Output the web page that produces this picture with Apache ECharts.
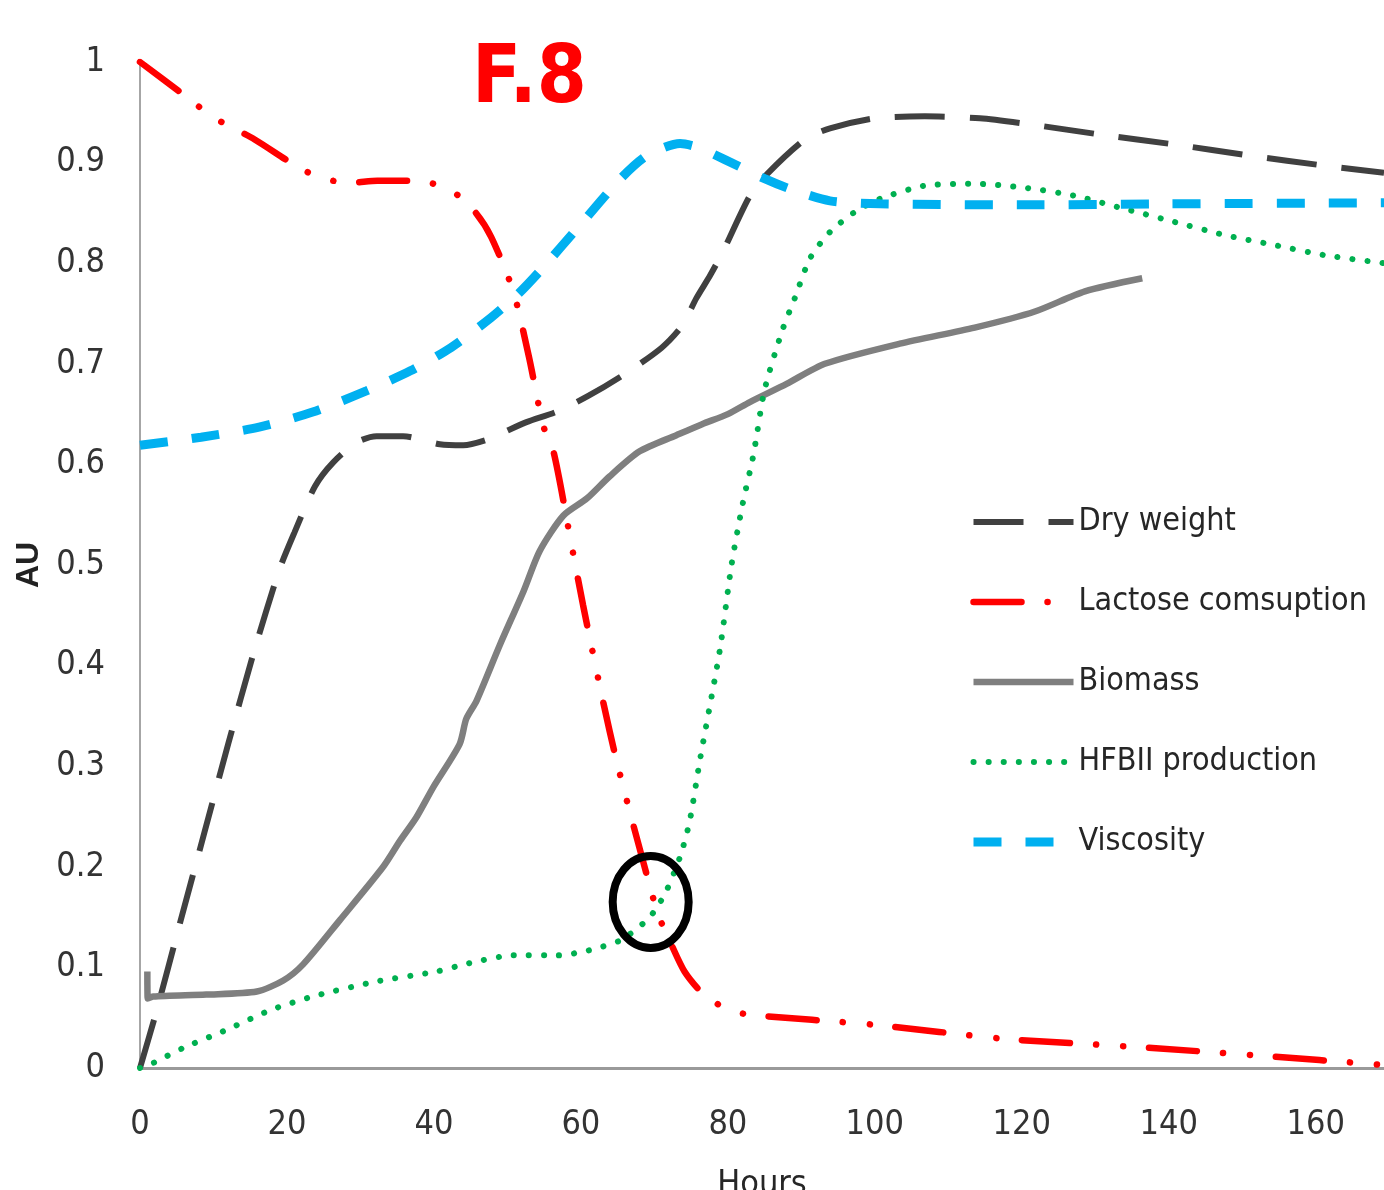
<!DOCTYPE html>
<html>
<head>
    <meta charset="UTF-8">
    <title>F.8 fermentation profile</title>
    <script src="https://cdn.jsdelivr.net/npm/echarts@6/dist/echarts.min.js"></script>
    <style>
        html, body { margin: 0; padding: 0; background: #fff; }
        #main { width: 1384px; height: 1190px; }
    </style>
</head>
<body>
    <div id="main"></div>
    <script type="text/javascript">
        // values: [hours, AU]
        const dryWeight = [[0,0],[2.3,0.058],[5.4,0.143],[8.8,0.235],[12,0.322],[15.4,0.411],[19,0.496],[21,0.532],[23.8,0.578],[26.3,0.602],[29.5,0.622],[32.2,0.628],[35.8,0.628],[40.8,0.62],[44,0.619],[47,0.624],[49.5,0.632],[52.6,0.642],[56.9,0.653],[61,0.668],[66,0.69],[71,0.716],[73.8,0.738],[75.7,0.765],[77.6,0.788],[79.3,0.811],[83,0.867],[85.4,0.889],[90.5,0.923],[93.9,0.934],[100,0.944],[106.8,0.946],[114.3,0.944],[121.1,0.938],[130.6,0.928],[140.8,0.918],[151,0.907],[161.2,0.897],[169.3,0.89]];
        const lactose = [[0,1],[5.85,0.968],[10,0.945],[15.6,0.923],[21.6,0.895],[25,0.884],[28.6,0.88],[32.3,0.882],[36,0.882],[38.9,0.881],[42.6,0.871],[45.6,0.851],[47.8,0.826],[50.8,0.772],[52.9,0.708],[54.9,0.638],[56.3,0.612],[58.7,0.521],[60.3,0.46],[63,0.365],[64.9,0.304],[68.3,0.21],[70.5,0.153],[72.3,0.123],[74.1,0.096],[76.6,0.074],[80,0.058],[83,0.053],[99.9,0.043],[117.6,0.029],[135.4,0.021],[153,0.012],[169.3,0.003]];
        const biomass = [[1,0.096],[1.05,0.069],[1.8,0.071],[9,0.073],[15.9,0.076],[19.5,0.087],[22.2,0.103],[27.2,0.147],[33.1,0.2],[35.4,0.226],[37.6,0.249],[39.9,0.279],[43.5,0.322],[44.4,0.347],[45.8,0.365],[49,0.421],[52.2,0.474],[54.4,0.514],[57.6,0.549],[60.8,0.566],[63.9,0.588],[68,0.613],[73,0.629],[76.5,0.64],[80,0.65],[83,0.662],[88,0.68],[93.2,0.7],[103.4,0.72],[113.6,0.736],[121.8,0.752],[128.6,0.772],[136.4,0.785]];
        const hfbii = [[0,0],[1.8,0.005],[5.9,0.02],[11.8,0.038],[17.9,0.058],[24,0.072],[32.2,0.086],[40.4,0.096],[44.7,0.104],[50.8,0.112],[56.9,0.112],[61.1,0.117],[65.4,0.127],[69,0.147],[70.3,0.159],[71.7,0.177],[73.5,0.21],[74.8,0.245],[76.2,0.306],[78.9,0.415],[80.5,0.5],[82,0.56],[83.5,0.61],[85,0.674],[87.4,0.733],[89.1,0.765],[91.2,0.805],[93.9,0.831],[97.3,0.851],[100.7,0.864],[106.8,0.877],[113.6,0.879],[120.4,0.875],[127.2,0.867],[134,0.854],[140.8,0.841],[147.6,0.828],[154.4,0.818],[161.2,0.808],[169.3,0.8]];
        const viscosity = [[0,0.619],[8.3,0.627],[16.2,0.637],[23.5,0.652],[30.8,0.673],[36.8,0.693],[42.3,0.716],[47.8,0.746],[51.4,0.769],[54.4,0.792],[59.9,0.838],[65.4,0.884],[69,0.907],[73.5,0.919],[76,0.915],[79.6,0.903],[85,0.884],[88.4,0.874],[93.9,0.862],[100.7,0.859],[120,0.858],[140,0.859],[169.3,0.86]];

        const seriesNames = ['Dry weight', 'Lactose comsuption', 'Biomass', 'HFBII production', 'Viscosity'];
        const seriesWidths = [6, 6.5, 6.5, 6, 9];
        const circleAt = [69.5, 0.165];   // marked crossing point

        const font = "'DejaVu Sans Condensed', 'Liberation Sans Narrow', sans-serif";
        const chart = echarts.init(document.getElementById('main'));

        function line(i, data, color, dash, cap) {
            return {
                name: seriesNames[i],
                type: 'line',
                data: data,
                symbol: 'none',
                smooth: 0.25,
                lineStyle: { color: color, width: seriesWidths[i], type: dash, cap: cap || 'butt' },
                itemStyle: { color: color }
            };
        }

        chart.setOption({
            animation: false,
            title: {
                text: 'F.8',
                left: 467,
                top: 36,
                textStyle: { color: '#ff0000', fontSize: 80, fontWeight: 'bold', fontFamily: font }
            },
            legend: {
                orient: 'vertical',
                left: 964,
                top: 497,
                itemWidth: 100,
                itemHeight: 14,
                itemGap: 40,
                itemStyle: { opacity: 0 },
                data: seriesNames.map((n, i) => ({ name: n, lineStyle: { width: seriesWidths[i] } })),
                textStyle: { fontSize: 32, lineHeight: 40, color: '#262626', fontFamily: font }
            },
            grid: { left: 140, right: 0, top: 62, bottom: 122, outerBoundsMode: 'none' },
            xAxis: {
                type: 'value',
                min: 0,
                max: 169.3,
                interval: 20,
                name: 'Hours',
                nameLocation: 'middle',
                nameGap: 100,
                nameTextStyle: { fontSize: 34, color: '#262626', fontFamily: font },
                axisLine: { lineStyle: { color: '#9a9a9a', width: 3 } },
                axisTick: { show: false },
                splitLine: { show: false },
                axisLabel: { showMaxLabel: false, margin: 40, fontSize: 34, color: '#333', fontFamily: font }
            },
            yAxis: {
                type: 'value',
                min: 0,
                max: 1,
                interval: 0.1,
                name: 'AU',
                nameLocation: 'middle',
                nameRotate: 90,
                nameGap: 94,
                nameTextStyle: { fontSize: 32, fontWeight: 'bold', color: '#222', fontFamily: "'Liberation Sans', sans-serif" },
                axisLine: { show: true, lineStyle: { color: '#a6a6a6', width: 2 } },
                axisTick: { show: false },
                splitLine: { show: false },
                axisLabel: { margin: 35, fontSize: 34, color: '#333', fontFamily: font }
            },
            series: [
                line(0, dryWeight, '#404040', [50, 25]),
                line(1, lactose, '#ff0000', [48, 26, 0.1, 27, 0.1, 26], 'round'),
                line(2, biomass, '#7f7f7f', 'solid'),
                line(3, hfbii, '#00b050', [0.1, 15], 'round'),
                line(4, viscosity, '#00b0f0', [28, 24])
            ]
        });

        const c = chart.convertToPixel({ gridIndex: 0 }, circleAt);
        chart.setOption({
            graphic: [{
                type: 'ellipse',
                shape: { cx: c[0], cy: c[1], rx: 38, ry: 46 },
                style: { fill: 'none', stroke: '#000', lineWidth: 8 },
                z: 100
            }]
        });
    </script>
</body>
</html>
